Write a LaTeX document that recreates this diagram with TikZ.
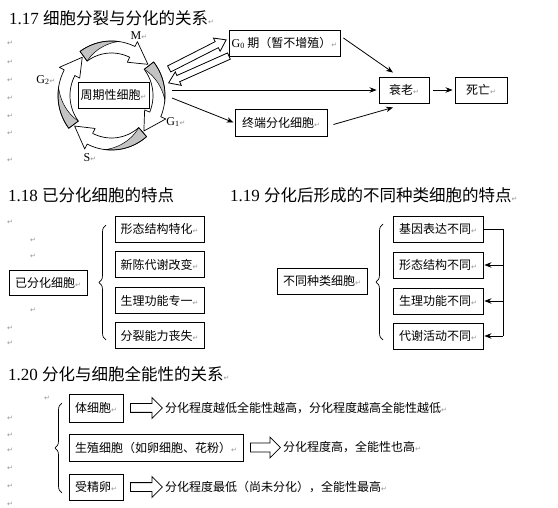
\documentclass[tikz,border=0pt]{standalone}
\usepackage{fontspec}
\setmainfont{Liberation Serif}
\newfontfamily\cjk{Noto Sans CJK SC}
\newfontfamily\symf{DejaVu Sans}
\usetikzlibrary{arrows.meta,shapes.arrows,decorations.pathreplacing,calc}
\definecolor{pmgray}{RGB}{150,150,150}
\definecolor{cycgray}{RGB}{195,195,195}
\newcommand\parmk{{\symf\fontsize{7}{7}\selectfont\color{pmgray}↵}}
% curved ribbon arrow of the cell cycle: #1 start angle, #2 tip angle
\newcommand\cycarrow[2]{%
 \pgfmathsetmacro\hb{#2-24}%
 \pgfmathsetmacro\gm{#1+0.7*(#2-24-#1)}%
 \path[fill=white] plot[domain=#1:\hb,samples=25] ({111.5+53.5*cos(\x)},{95.5+54.5*sin(\x)})
   -- ({111.5+59*cos(\hb)},{95.5+60*sin(\hb)})
   -- ({111.5+47.5*cos(#2)},{95.5+48.5*sin(#2)})
   -- ({111.5+36*cos(\hb)},{95.5+37*sin(\hb)})
   -- plot[domain=\hb:#1,samples=25] ({111.5+41.5*cos(\x)},{95.5+42.5*sin(\x)}) -- cycle;
 \filldraw[fill=cycgray,draw=black,line width=0.5pt] plot[domain=#1:\gm,samples=20] ({111.5+53.5*cos(\x)},{95.5+54.5*sin(\x)})
   -- plot[domain=\gm:#1,samples=20] ({111.5+(47.5+6*(1-2*(\gm-\x)/(\gm-#1)))*cos(\x)},{95.5+(48.5+6*(1-2*(\gm-\x)/(\gm-#1)))*sin(\x)}) -- cycle;
 \draw[line width=0.7pt,line join=round] plot[domain=#1:\hb,samples=25] ({111.5+53.5*cos(\x)},{95.5+54.5*sin(\x)})
   -- ({111.5+59*cos(\hb)},{95.5+60*sin(\hb)})
   -- ({111.5+47.5*cos(#2)},{95.5+48.5*sin(#2)})
   -- ({111.5+36*cos(\hb)},{95.5+37*sin(\hb)})
   -- plot[domain=\hb:#1,samples=25] ({111.5+41.5*cos(\x)},{95.5+42.5*sin(\x)}) -- cycle;
}
\tikzset{
 bx/.style={draw, line width=0.9pt, inner sep=0pt, minimum height=26pt, fill=white,
   font=\cjk\fontsize{12}{12}\selectfont},
 txt/.style={inner sep=0pt, anchor=west, font=\cjk\fontsize{12}{12}\selectfont},
 ttl/.style={inner sep=0pt, anchor=west, font=\fontsize{17}{17}\selectfont},
 lbl/.style={inner sep=0pt, font=\fontsize{12}{12}\selectfont},
 pm/.style={inner sep=0pt},
 arr/.style={line width=0.8pt, -{Stealth[length=7pt,width=5.5pt]}},
 harrow/.style={shape=single arrow, draw, line width=0.8pt, fill=white,
   inner xsep=0pt, inner ysep=4pt, single arrow head extend=6pt, single arrow tip angle=90},
 harrowb/.style={shape=single arrow, draw, line width=0.8pt, fill=white,
   inner xsep=0pt, inner ysep=3pt, single arrow head extend=4pt, single arrow tip angle=70},
 brc/.style={decorate, decoration={brace, amplitude=7pt, aspect=0.5}, line width=0.7pt},
}
\begin{document}
\begin{tikzpicture}[x=1pt, y=-1pt]
\useasboundingbox (0,0) rectangle (558,508);
\fill[white] (0,0) rectangle (558,508);

% ---------------- 1.17 ----------------
\node[ttl] (t17) at (9,18) {1.17 {\cjk\fontsize{16.5}{16.5}\selectfont 细胞分裂与分化的关系}\parmk};
\foreach \yy in {43,62,80,98,116,133,160} \node[pm] at (10,\yy) {\parmk};

\cycarrow{234}{320}
\cycarrow{322}{407}
\cycarrow{49}{141}
\cycarrow{143}{232}

\node[lbl] (lM) at (139,36) {M\parmk};
\node[lbl] (lG2) at (46,80) {G\textsubscript{2}\parmk};
\node[lbl] (lG1) at (176,122) {G\textsubscript{1}\parmk};
\node[lbl] (lS) at (90,158) {S\parmk};

\node[bx, minimum width=71pt] (cyc) at (113.5,95) {周期性细胞\parmk};
\node[bx, minimum width=111pt] (g0) at (284.5,43) {{\rmfamily G\textsubscript{0}} 期（暂不增殖）\parmk};
\node[bx, minimum width=50pt] (sl) at (404,90) {衰老\parmk};
\node[bx, minimum width=52pt] (sw) at (481,90) {死亡\parmk};
\node[bx, minimum width=92pt, minimum height=27pt] (zd) at (281,122.5) {终端分化细胞\parmk};

\coordinate (cycR1) at (172,90);
\coordinate (cycR2) at (172,98);
\node[harrowb, minimum height=64pt, rotate=27] (ha1) at (195.5,55.5) {};
\node[harrowb, minimum height=66pt, rotate=204] (ha2) at (201,68.5) {};

\draw[arr] (cycR1) -- ($(sl.west)+(-2,0)$);
\draw[arr] (cycR2) -- ($(zd.west)+(-1,0)$);
\draw[arr] ($(g0.east)+(3,-5)$) -- ($(sl.north)+(-11,-4)$);
\draw[arr] ($(zd.east)+(6,2)$) -- ($(sl.south)+(-11,4)$);
\draw[arr] ($(sl.east)+(4,0)$) -- ($(sw.west)+(-2,0)$);

% ---------------- 1.18 ----------------
\node[ttl] (t18) at (8,195) {1.18 {\cjk\fontsize{16.5}{16.5}\selectfont 已分化细胞的特点}};
\foreach \xx/\yy in {10/222,33/240,33/256,33/310,10/328,10/343} \node[pm] at (\xx,\yy) {\parmk};

\node[bx, minimum width=78pt, minimum height=25pt] (yf) at (48,282.5) {已分化细胞\parmk};
\draw[brc] (106,340) -- (106,225);
\node[bx, minimum width=89pt] (r1) at (159.5,229) {形态结构特化\parmk};
\node[bx, minimum width=89pt] (r2) at (159.5,264.5) {新陈代谢改变\parmk};
\node[bx, minimum width=89pt] (r3) at (159.5,300.5) {生理功能专一\parmk};
\node[bx, minimum width=89pt] (r4) at (159.5,335.5) {分裂能力丧失\parmk};

% ---------------- 1.19 ----------------
\node[ttl] (t19) at (230,195) {1.19 {\cjk\fontsize{16.5}{16.5}\selectfont 分化后形成的不同种类细胞的特点}\parmk};
\node[bx, minimum width=90pt] (bt) at (322,281) {不同种类细胞\parmk};
\draw[brc] (383,340) -- (383,224);
\node[bx, minimum width=90pt] (s1) at (438,229) {基因表达不同\parmk};
\node[bx, minimum width=90pt] (s2) at (438,265) {形态结构不同\parmk};
\node[bx, minimum width=90pt] (s3) at (438,301) {生理功能不同\parmk};
\node[bx, minimum width=90pt] (s4) at (438,336) {代谢活动不同\parmk};
\coordinate (rt) at (503,229);
\coordinate (rb) at (503,336);
\draw[line width=0.8pt] (s1.east) -- (rt) -- (rb);
\draw[arr] (rt |- s2.east) -- ($(s2.east)+(1,0)$);
\draw[arr] (rt |- s3.east) -- ($(s3.east)+(1,0)$);
\draw[arr] (rb) -- ($(s4.east)+(1,0)$);

% ---------------- 1.20 ----------------
\node[ttl] (t20) at (8,374) {1.20 {\cjk\fontsize{16.5}{16.5}\selectfont 分化与细胞全能性的关系}\parmk};
\foreach \xx/\yy in {47/398,10/418,10/435,10/450,10/468,10/486,10/504} \node[pm] at (\xx,\yy) {\parmk};

\draw[brc] (62,493) -- (62,403);
\node[bx, minimum width=54pt, minimum height=28pt] (b1) at (96,408) {体细胞\parmk};
\node[bx, minimum width=174pt, minimum height=27pt] (b2) at (156,447.5) {生殖细胞（如卵细胞、花粉）\parmk};
\node[bx, minimum width=54pt] (b3) at (96,487) {受精卵\parmk};

\node[txt] (x1) at (165,408) {分化程度越低全能性越高，分化程度越高全能性越低\parmk};
\node[txt] (x2) at (283,447.5) {分化程度高，全能性也高\parmk};
\node[txt] (x3) at (165,487) {分化程度最低（尚未分化），全能性最高\parmk};

\node[harrow, minimum height=32pt] (a1) at ($(b1.east)!0.5!(x1.west)$) {};
\node[harrow, minimum height=30pt] (a2) at ($(b2.east)!0.5!(x2.west)$) {};
\node[harrow, minimum height=32pt] (a3) at ($(b3.east)!0.5!(x3.west)$) {};
\end{tikzpicture}
\end{document}
